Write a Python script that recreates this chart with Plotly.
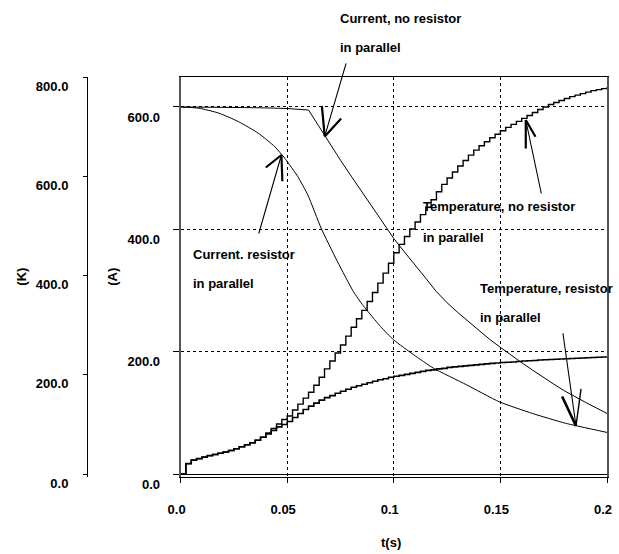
import plotly.graph_objects as go

# ---------------- data ----------------
t_temp = [0.0, 0.0025, 0.005, 0.0075, 0.01, 0.0125, 0.015, 0.0175, 0.02, 0.0225,
          0.025, 0.0275, 0.03, 0.0325, 0.035, 0.0375, 0.04, 0.0425, 0.045, 0.0475,
          0.05, 0.0525, 0.055, 0.0575, 0.06, 0.0625, 0.065, 0.0675, 0.07, 0.0725,
          0.075, 0.0775, 0.08, 0.0825, 0.085, 0.0875, 0.09, 0.0925, 0.095, 0.0975,
          0.1, 0.1025, 0.105, 0.1075, 0.11, 0.1125, 0.115, 0.1175, 0.12, 0.1225,
          0.125, 0.1275, 0.13, 0.1325, 0.135, 0.1375, 0.14, 0.1425, 0.145, 0.1475,
          0.15, 0.1525, 0.155, 0.1575, 0.16, 0.1625, 0.165, 0.1675, 0.17, 0.1725,
          0.175, 0.1775, 0.18, 0.1825, 0.185, 0.1875, 0.19, 0.1925, 0.195, 0.1975,
          0.2]

# Temperature, no resistor in parallel (K)
temp_no_res = [0, 21, 28, 31, 34, 37, 39.5, 42, 44.5, 47.5,
               51, 55, 59, 63, 68, 74, 83, 92, 101, 110,
               117, 129, 141, 153, 165, 179, 195, 212, 228, 244,
               260, 278, 296, 313, 330, 348, 366, 385, 405, 425,
               446, 463, 479, 494, 508, 523, 538, 553, 569, 584,
               597, 609, 621, 632, 643, 653, 662, 670, 678, 685,
               692, 699, 705, 711, 717, 723, 729, 735, 740, 745,
               749, 753, 757, 761, 764, 767, 770, 773, 775, 777,
               780]

# Temperature, resistor in parallel (K)
temp_res = [0, 21, 28, 31, 34, 37, 39.5, 42, 44.5, 47.5,
            51, 55, 59, 63, 68, 74, 81, 88, 95, 100,
            106, 114, 122, 130, 137, 143, 149, 154, 158, 163,
            167, 171, 175, 178, 181, 184, 187, 190, 192, 195,
            197, 199, 201, 203, 205, 207, 209, 210, 212, 213,
            215, 216, 217, 218, 219, 220, 221, 222, 223, 224,
            225, 225.5, 226, 227, 228, 228.5, 229, 230, 230.5, 231,
            231.5, 232, 232.5, 233, 233.5, 234, 234.5, 235, 235.5, 236,
            236]

# Current, no resistor in parallel (A)
t_cur_no_res = [0.0, 0.01, 0.02, 0.03, 0.04, 0.05, 0.06, 0.065, 0.07, 0.075,
                0.08, 0.085, 0.09, 0.095, 0.1, 0.105, 0.11, 0.115, 0.12, 0.125,
                0.13, 0.135, 0.14, 0.145, 0.15, 0.155, 0.16, 0.165, 0.17, 0.175,
                0.18, 0.185, 0.19, 0.195, 0.2]
cur_no_res = [600, 600, 599.5, 599, 598.5, 597.5, 595, 567, 540, 513,
              487, 461, 435, 409, 385, 363, 342, 320, 298, 280,
              264, 249, 234, 220, 207, 194, 182, 170, 158, 147,
              136, 126, 117, 108, 99]

# Current, resistor in parallel (A)
t_cur_res = [0.0, 0.0086, 0.0179, 0.0272, 0.0365, 0.0442, 0.0489, 0.055, 0.0597, 0.0659,
             0.0736, 0.0811, 0.0857, 0.0938, 0.1, 0.1093, 0.1186, 0.134, 0.1495, 0.165,
             0.1805, 0.2]
cur_res = [600, 598, 590, 576, 557, 535, 516, 486, 456, 402,
           347, 298, 275, 241, 219, 195, 173, 146, 118, 99,
           83, 68]

x_ticks = [0.0, 0.05, 0.1, 0.15, 0.2]
x_tick_text = ["0.0", "0.05", "0.1", "0.15", "0.2"]
a_ticks = [0, 200, 400, 600]
a_tick_text = ["0.0", "200.0", "400.0", "600.0"]
k_ticks = [0, 200, 400, 600, 800]
k_tick_text = ["0.0", "200.0", "400.0", "600.0", "800.0"]

# ---------------- styling ----------------
FONT = "Liberation Sans, Arial, sans-serif"
tfont = dict(family=FONT, size=13, color="black", weight=700)

fig = go.Figure()
fig.add_trace(go.Scatter(x=t_cur_no_res, y=cur_no_res, mode="lines",
                         line=dict(color="black", width=1), yaxis="y"))
fig.add_trace(go.Scatter(x=t_cur_res, y=cur_res, mode="lines",
                         line=dict(color="black", width=1, shape="spline", smoothing=0.5), yaxis="y"))
fig.add_trace(go.Scatter(x=t_temp, y=temp_no_res, mode="lines",
                         line=dict(color="black", width=1.4, shape="hv"), yaxis="y2"))
fig.add_trace(go.Scatter(x=t_temp, y=temp_res, mode="lines",
                         line=dict(color="black", width=1.6, shape="hv"), yaxis="y2"))

L, R, T, B = 87, 7, 77, 77
W, H = 619, 554
pw = W - L - R
ph = H - T - B

def px(xp):
    return (xp - L) / pw

def py(yp):
    return (H - B - yp) / ph

annotations = []
# text labels (each line separately for wide line spacing)
labels = [
    ("Current, no resistor", 341, 18),
    ("in parallel", 341, 47),
    ("Current. resistor", 193, 254),
    ("in parallel", 193, 283),
    ("Temperature, no resistor", 425, 207),
    ("in parallel", 425, 237),
    ("Temperature, resistor", 483, 288),
    ("in parallel", 483, 317),
]
for txt, xp, yp in labels:
    annotations.append(dict(text=txt, x=px(xp), y=py(yp), xref="paper", yref="paper",
                            xanchor="left", yanchor="middle", showarrow=False,
                            font=tfont, borderpad=0))

# axis titles
annotations.append(dict(text="(K)", x=px(20), y=py(277), xref="paper", yref="paper",
                        xanchor="center", yanchor="middle",
                        textangle=-90, showarrow=False, font=tfont))
annotations.append(dict(text="(A)", x=px(112), y=py(277), xref="paper", yref="paper",
                        xanchor="center", yanchor="middle",
                        textangle=-90, showarrow=False, font=tfont))
annotations.append(dict(text="t(s)", x=px(394), y=py(542), xref="paper", yref="paper",
                        xanchor="center", yanchor="middle",
                        showarrow=False, font=tfont))

# hand-drawn style arrows (stem + two head strokes), in data coordinates
arrows = [
    # (tip_x, tip_y, [(from_x, from_y, width), ...])
    (0.06760, 551.8, [(0.07782, 673.6, 1.1), (0.06620, 604.4, 2.2), (0.07596, 583.7, 2.2)]),
    (0.04729, 521.5, [(0.03647, 390.7, 1.1), (0.03926, 499.1, 2.2), (0.04776, 476.2, 2.2)]),
    (0.16190, 578.7, [(0.16934, 456.1, 1.1), (0.16688, 548.8, 2.2), (0.16190, 529.7, 2.2)]),
    (0.18546, 78.5, [(0.17923, 232.6, 1.1), (0.17863, 129.2, 2.6), (0.18792, 141.7, 1.4)]),
]
for tx, ty, segs in arrows:
    for fx, fy, w in segs:
        annotations.append(dict(x=tx, y=ty, ax=fx, ay=fy, xref="x", yref="y",
                                axref="x", ayref="y", text="", showarrow=True,
                                arrowhead=0, arrowwidth=w, arrowcolor="black",
                                standoff=0, startstandoff=0))

fig.update_layout(
    width=W, height=H,
    margin=dict(l=L, r=R, t=T, b=B, pad=0),
    paper_bgcolor="white", plot_bgcolor="white",
    showlegend=False,
    font=tfont,
    annotations=annotations,
    xaxis=dict(
        domain=[px(181.5), 1.0], range=[0, 0.200001],
        tickvals=x_ticks, ticktext=x_tick_text,
        ticks="outside", ticklen=5, tickcolor="black", tickwidth=1,
        showline=True, linecolor="black", linewidth=1, mirror=True,
        showgrid=True, gridcolor="black", griddash="dot", gridwidth=1,
        zeroline=False, tickfont=tfont, ticklabelstandoff=15,
        ticklabelshift=-4,
    ),
    yaxis=dict(
        range=[-4.9, 649], tickvals=a_ticks, ticktext=a_tick_text,
        ticks="outside", ticklen=6, tickcolor="black", tickwidth=1,
        showline=True, linecolor="#555555", linewidth=2, mirror=True,
        showgrid=True, gridcolor="black", griddash="dot", gridwidth=1,
        zeroline=True, zerolinecolor="black", zerolinewidth=1,
        tickfont=tfont, ticklabelshift=10, ticklabelstandoff=10,
    ),
    yaxis2=dict(
        range=[-6, 800.5], tickvals=k_ticks, ticktext=k_tick_text,
        overlaying="y", side="left", anchor="free", position=0,
        ticks="outside", ticklen=4, tickcolor="black", tickwidth=1,
        showline=True, linecolor="black", linewidth=1,
        showgrid=False, zeroline=False,
        tickfont=tfont, ticklabelshift=9, ticklabelstandoff=12,
    ),
)

fig.write_html("out.html", config={"displayModeBar": False})
